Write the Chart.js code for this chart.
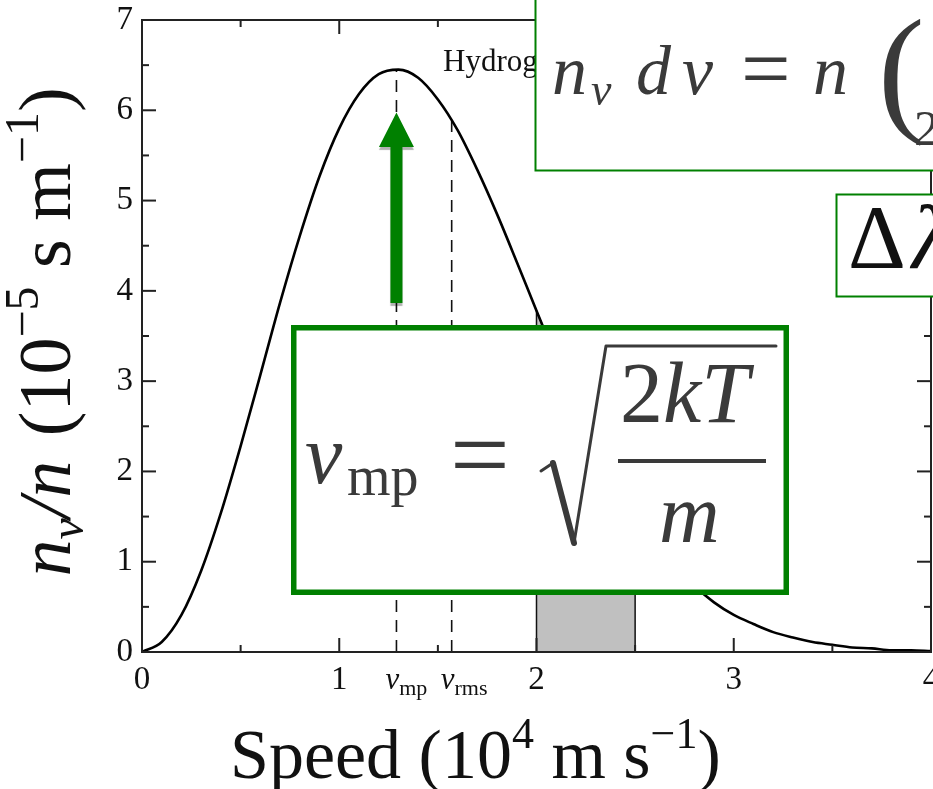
<!DOCTYPE html>
<html><head><meta charset="utf-8">
<script src="https://cdn.jsdelivr.net/npm/chart.js@4.4.1/dist/chart.umd.min.js"></script>
<style>html,body{margin:0;padding:0;background:#fff;overflow:hidden}canvas{display:block}</style>
</head><body>
<canvas id="c" width="933" height="789"></canvas>
<script>
// ---- data ----
const speeds = [0,0.1,0.2,0.3,0.4,0.5,0.6,0.7,0.8,0.9,1.0,1.1,1.2,1.3,1.4,1.5,1.6,1.7,1.8,1.9,2.0,2.1,2.2,2.3,2.4,2.5,2.6,2.7,2.8,2.9,3.0,3.1,3.2,3.3,3.4,3.5,3.6,3.7,3.8,3.9,4.0];
const density = [0,0.11,0.41,0.90,1.54,2.28,3.07,3.87,4.61,5.27,5.80,6.18,6.40,6.45,6.36,6.12,5.78,5.34,4.85,4.32,3.78,3.25,2.75,2.29,1.88,1.51,1.20,0.94,0.73,0.55,0.41,0.31,0.22,0.16,0.11,0.08,0.05,0.04,0.02,0.02,0.01];
const xTickLabels = ['0','1','2','3','4'];
const yTickLabels = ['0','1','2','3','4','5','6','7'];
const markerSpeeds = [1.29, 1.57];
const markerTops = [6.45, 5.88];
const markerNames = ['mp', 'rms'];
const shadeRange = [2.0, 2.5];
const seriesLabel = 'Hydrogen';

// ---- build datasets ----
const curvePts = speeds.map((s, i) => ({x: s, y: density[i]}));
const shadePts = [{x: shadeRange[0], y: 0}]
  .concat(curvePts.filter(p => p.x >= shadeRange[0] - 1e-9 && p.x <= shadeRange[1] + 1e-9))
  .concat([{x: shadeRange[1], y: 0}]);
const markerSets = markerSpeeds.map((s, i) => ({
  data: [{x: s, y: 0}, {x: s, y: markerTops[i]}],
  borderColor: '#111', borderWidth: 1.6, borderDash: [12, 8],
  pointRadius: 0, fill: false, tension: 0, order: 2
}));

const SERIF = "'Liberation Serif','Times New Roman',serif";
const F = (st, sz) => `${st} ${sz}px ${SERIF}`;
function rich(ctx, parts, x, y) {
  for (const p of parts) { ctx.font = p.f; ctx.fillText(p.t, x, y + (p.dy || 0)); x += ctx.measureText(p.t).width + (p.g || 0); }
  return x;
}
function richWidth(ctx, parts) {
  let w = 0; for (const p of parts) { ctx.font = p.f; w += ctx.measureText(p.t).width + (p.g || 0); } return w;
}
function line(ctx, x1, y1, x2, y2) { ctx.beginPath(); ctx.moveTo(x1, y1); ctx.lineTo(x2, y2); ctx.stroke(); }

const decor = {
  id: 'decor',
  afterDatasetsDraw(chart) {
    const ctx = chart.ctx, a = chart.chartArea, xs = chart.scales.x, ys = chart.scales.y;
    ctx.save();
    ctx.strokeStyle = '#222'; ctx.lineWidth = 2;
    ctx.strokeRect(a.left, a.top, a.right - a.left, a.bottom - a.top);
    for (let v = 0; v <= 4.0001; v += 0.5) {
      const px = xs.getPixelForValue(v), len = Math.abs(v - Math.round(v)) < 1e-6 ? 14 : 7;
      line(ctx, px, a.bottom, px, a.bottom - len);
      line(ctx, px, a.top, px, a.top + len);
    }
    for (let v = 0; v <= 7.0001; v += 0.5) {
      const py = ys.getPixelForValue(v), len = Math.abs(v - Math.round(v)) < 1e-6 ? 14 : 7;
      line(ctx, a.left, py, a.left + len, py);
      line(ctx, a.right, py, a.right - len, py);
    }
    ctx.fillStyle = '#111'; ctx.textBaseline = 'alphabetic'; ctx.textAlign = 'left';
    // marker labels
    markerSpeeds.forEach((s, i) => {
      const px = xs.getPixelForValue(s);
      rich(ctx, [{t: 'v', f: F('italic', 31)}, {t: markerNames[i], f: F('normal', 22), dy: 6}], px - 11, 689);
    });
    // series label
    ctx.font = F('normal', 31);
    ctx.fillText(seriesLabel, 443, 71);
    // x title
    const xt = [
      {t: 'Speed (10', f: F('normal', 70)},
      {t: '4', f: F('normal', 44), dy: -30},
      {t: ' m s', f: F('normal', 70)},
      {t: '\u22121', f: F('normal', 44), dy: -30},
      {t: ')', f: F('normal', 70)}
    ];
    rich(ctx, xt, 230, 778);
    // y title
    const yt = [
      {t: 'n', f: F('italic', 74)},
      {t: 'v', f: F('italic', 48), dy: 13},
      {t: '/n', f: F('italic', 74), g: 6},
      {t: ' (10', f: F('normal', 74)},
      {t: '\u22125', f: F('normal', 48), dy: -32},
      {t: ' s m', f: F('normal', 74)},
      {t: '\u22121', f: F('normal', 48), dy: -32},
      {t: ')', f: F('normal', 74)}
    ];
    const w = richWidth(ctx, yt);
    ctx.translate(70, 332); ctx.rotate(-Math.PI / 2);
    rich(ctx, yt, -w / 2, 0);
    ctx.restore();
  },
  afterDraw(chart) {
    const ctx = chart.ctx, xs = chart.scales.x;
    ctx.save();
    const green = '#008000';
    // arrow
    const ax = xs.getPixelForValue(markerSpeeds[0]);
    ctx.save();
    ctx.shadowColor = 'rgba(0,0,0,0.3)'; ctx.shadowOffsetY = 3; ctx.shadowOffsetX = 0; ctx.shadowBlur = 1;
    ctx.fillStyle = green;
    ctx.beginPath();
    ctx.moveTo(ax - 6, 303); ctx.lineTo(ax - 6, 147); ctx.lineTo(ax - 17.5, 147); ctx.lineTo(ax, 112.5);
    ctx.lineTo(ax + 17.5, 147); ctx.lineTo(ax + 6, 147); ctx.lineTo(ax + 6, 303); ctx.closePath(); ctx.fill();
    ctx.restore();

    // top formula box
    ctx.fillStyle = '#fff'; ctx.fillRect(535, 0, 400, 170);
    ctx.strokeStyle = green; ctx.lineWidth = 2; ctx.strokeRect(535.5, -5, 410, 175.5);
    ctx.fillStyle = '#3a3a3a'; ctx.filter = 'blur(0.5px)'; ctx.textBaseline = 'alphabetic';
    ctx.font = F('italic', 70); ctx.fillText('n', 552, 94);
    ctx.font = F('italic', 46); ctx.fillText('v', 591, 105);
    ctx.font = F('italic', 70); ctx.fillText('d', 636, 94); ctx.fillText('v', 682, 94);
    ctx.font = F('normal', 88); ctx.fillText('=', 741, 98);
    ctx.font = F('italic', 70); ctx.fillText('n', 813, 94);
    ctx.font = F('normal', 140); ctx.fillText('(', 878, 116);
    ctx.font = F('normal', 50); ctx.fillText('2', 914, 145);
    ctx.filter = 'none';

    // small box
    ctx.fillStyle = '#fff'; ctx.fillRect(836, 194, 100, 103);
    ctx.strokeStyle = green; ctx.lineWidth = 2; ctx.strokeRect(836.5, 194.5, 110, 102);
    ctx.fillStyle = '#111';
    ctx.font = F('normal', 90); ctx.fillText('\u0394', 848, 268);
    ctx.font = F('italic', 90); ctx.fillText('\u03bb', 912, 268);

    // big box
    ctx.fillStyle = '#fff'; ctx.fillRect(291, 325, 498, 270);
    ctx.strokeStyle = green; ctx.lineWidth = 5.5; ctx.strokeRect(293.75, 327.75, 492.5, 264.5);
    ctx.fillStyle = '#3a3a3a'; ctx.strokeStyle = '#3a3a3a'; ctx.filter = 'blur(0.6px)';
    ctx.font = F('italic', 84); ctx.fillText('v', 305, 483);
    ctx.font = F('normal', 56); ctx.fillText('mp', 347, 495);
    ctx.font = F('normal', 106); ctx.fillText('=', 450, 490);
    ctx.lineCap = 'round'; ctx.lineJoin = 'round';
    ctx.lineWidth = 3; line(ctx, 541, 471, 553, 463);
    ctx.lineWidth = 6; line(ctx, 553, 463, 574, 543);
    ctx.lineWidth = 3; ctx.beginPath(); ctx.moveTo(574, 543); ctx.lineTo(606, 346); ctx.lineTo(776, 346); ctx.stroke();
    rich(ctx, [{t: '2', f: F('normal', 86)}, {t: 'kT', f: F('italic', 86)}], 620, 422);
    ctx.fillRect(618, 459, 148, 4);
    ctx.font = F('italic', 84); ctx.fillText('m', 659, 542);
    ctx.filter = 'none';
    ctx.restore();
  }
};

new Chart(document.getElementById('c'), {
  type: 'line',
  data: {
    datasets: [
      {data: curvePts, borderColor: '#000', borderWidth: 2.6, pointRadius: 0, fill: false,
       cubicInterpolationMode: 'monotone', order: 0},
      {data: shadePts, borderColor: '#111', borderWidth: 1.5, backgroundColor: '#c0c0c0',
       pointRadius: 0, fill: 'origin', tension: 0, order: 1},
      ...markerSets
    ]
  },
  options: {
    responsive: false, animation: false, devicePixelRatio: 1,
    layout: {padding: {left: 0, right: 2, top: 20, bottom: 0}},
    plugins: {legend: {display: false}, tooltip: {enabled: false}},
    scales: {
      x: {
        type: 'linear', min: 0, max: 4,
        grid: {display: false, drawTicks: false}, border: {display: false},
        ticks: {stepSize: 1, padding: 9, color: '#111', font: {family: SERIF, size: 33},
                maxRotation: 0, autoSkip: false,
                callback: v => Number.isInteger(v) ? xTickLabels[v] : ''},
        afterFit: s => { s.height = 137; s.paddingLeft = 0; s.paddingRight = 0; }
      },
      y: {
        min: 0, max: 7,
        grid: {display: false, drawTicks: false}, border: {display: false},
        ticks: {stepSize: 1, padding: 9, color: '#111', font: {family: SERIF, size: 33},
                callback: v => Number.isInteger(v) ? yTickLabels[v] : ''},
        afterFit: s => { s.width = 142; s.paddingTop = 0; s.paddingBottom = 0; }
      }
    }
  },
  plugins: [decor]
});
</script>
</body></html>
